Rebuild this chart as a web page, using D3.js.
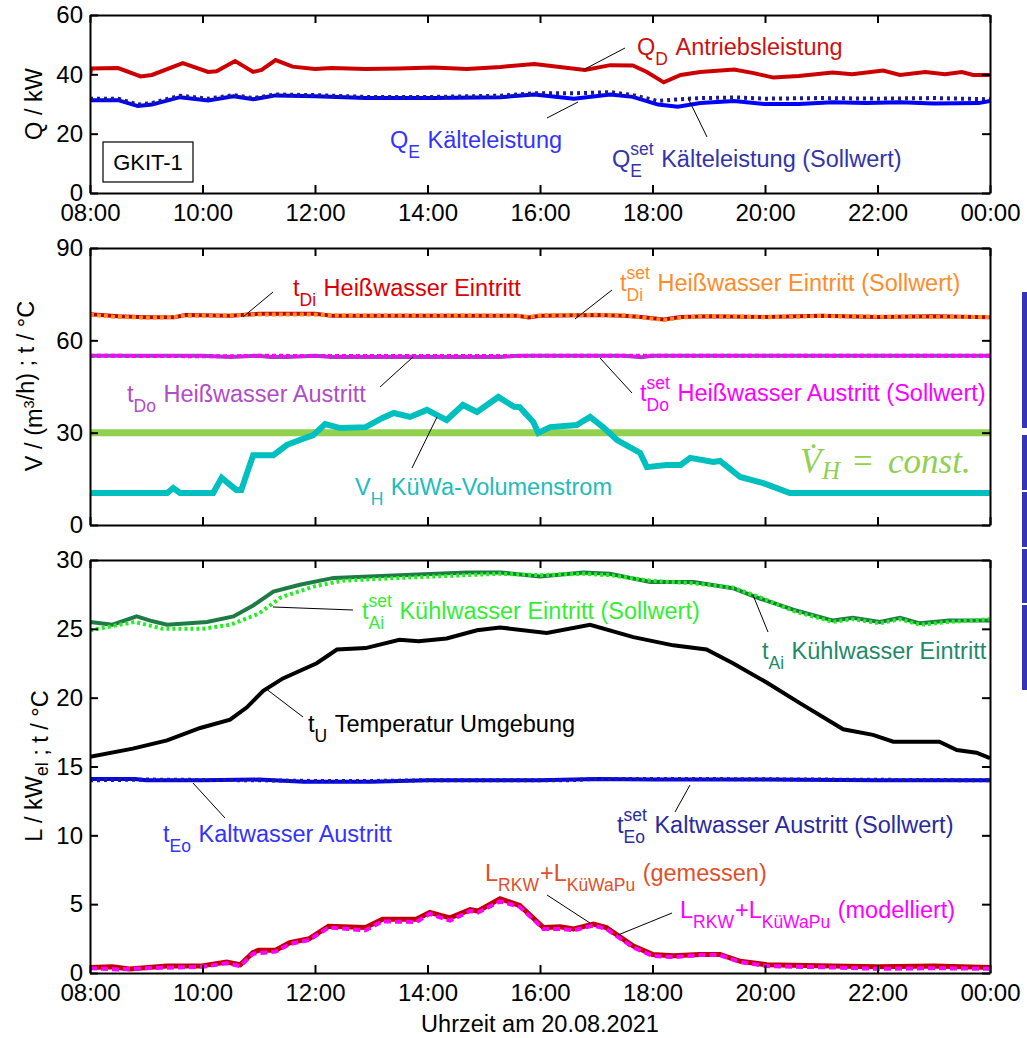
<!DOCTYPE html>
<html>
<head>
<meta charset="utf-8">
<script src="https://cdn.jsdelivr.net/npm/d3@7"></script>
<style>
  html, body { margin: 0; padding: 0; background: #fff; }
  svg { display: block; font-family: "Liberation Sans", Arial, sans-serif; }
  .axis path, .axis line { stroke: #000; stroke-width: 2px; }
  .axis text { font-size: 24px; fill: #000; font-family: "Liberation Sans", Arial, sans-serif; }
</style>
</head>
<body>
<svg id="chart" width="1027" height="1038"></svg>
<script>
// ---------------- data (hour of day, value) ----------------
const hourTicks = [8, 10, 12, 14, 16, 18, 20, 22, 24];
const yTicksQ = [0, 20, 40, 60];
const yTicksV = [0, 30, 60, 90];
const yTicksL = [0, 5, 10, 15, 20, 25, 30];

// Panel 1: Q / kW
const qD = [[8,39.5],[8.02,42],[8.5,42.1],[8.9,39.3],[9.1,39.8],[9.65,43.8],[10.1,40.8],[10.25,41],[10.58,44.5],[10.9,40.8],[11.05,41.5],[11.3,44.8],[11.6,42.6],[12,41.8],[12.3,42.1],[12.9,41.8],[13.5,42],[14.1,42.3],[14.7,41.8],[15.3,42.5],[15.9,43.5],[16.5,42.1],[16.8,41.5],[17.25,43.1],[17.65,43],[17.9,40.8],[18.2,37.3],[18.5,39.8],[18.85,40.8],[19.45,41.6],[19.8,40.4],[20.15,38.9],[20.6,39.4],[21.2,40.6],[21.55,40],[22.1,41.3],[22.4,39.8],[22.85,40.8],[23.2,40],[23.5,40.8],[23.7,39.8],[24,39.8]];
const qE = [[8,31.3],[8.5,31.3],[8.85,29.3],[9.1,29.8],[9.6,32.3],[10.1,31.2],[10.55,32.6],[10.9,31.6],[11.3,32.9],[12,32.6],[12.9,32],[14.1,32],[15.3,32.3],[15.9,33.2],[16.6,31.8],[17.25,33.2],[17.65,32.4],[18.1,29.8],[18.45,29.1],[18.85,30.3],[19.45,31],[20,30],[20.6,30],[21.2,30.6],[21.8,30.3],[22.4,30.6],[23,30.2],[23.8,30.3],[24,31]];
const qESet = [[8,31.8],[8.5,31.8],[8.85,29.8],[9.1,30.3],[9.6,32.8],[10.1,31.8],[10.55,33],[10.9,32],[11.3,33.2],[12,33],[12.9,32.4],[14.1,32.4],[15.3,32.8],[15.9,33.6],[16.6,33.6],[17.25,34],[17.65,33],[18.1,31],[18.4,31.5],[18.85,32],[19.5,32.2],[20,31.8],[21,32],[22,31.8],[23,32],[24,31.6]];

// Panel 2: V / (m3/h) ; t / °C
const tDi = [[8,68.5],[8.5,67.8],[9,67.5],[9.5,67.5],[9.7,68.2],[10.5,68],[11,68.6],[12,68.6],[12.3,68],[14,68],[15.6,68],[15.8,67.4],[16,68],[17,68.2],[17.5,68],[17.8,67.6],[18.2,66.8],[18.5,67.6],[19,67.8],[20,67.6],[21,68],[22,67.6],[23,67.8],[24,67.5]];
const tDiSet = [[8,68.3],[8.5,67.6],[9,67.4],[9.5,67.6],[9.7,68.1],[10.5,68.1],[11,68.4],[12,68.4],[12.3,68.1],[14,68.1],[15.6,68],[15.8,67.6],[16,68.1],[17,68.3],[17.5,68.1],[17.8,67.5],[18.2,66.6],[18.5,67.4],[19,67.9],[20,67.5],[21,67.9],[22,67.7],[23,67.6],[24,67.6]];
const tDo = [[8,55],[9,55],[10,55],[10.5,54.6],[11,55],[11.2,54.6],[11.5,54.6],[12,55],[12.3,54.6],[15.3,54.6],[15.6,55],[16,55],[17.5,55],[17.8,54.5],[18,55],[24,55]];
const tDoSet = [[8,55],[10.5,54.8],[11,55],[12,54.9],[15.5,54.9],[16,55],[24,55]];
const vH = [[8,10.4],[9.37,10.4],[9.48,12],[9.6,10.4],[10.19,10.4],[10.34,15.3],[10.6,11.4],[10.69,11.4],[10.9,22.7],[11.26,22.7],[11.5,26],[11.73,27.6],[11.97,29.2],[12.18,32.8],[12.45,31.5],[12.9,31.8],[13.2,34.8],[13.4,36.4],[13.69,35.1],[13.99,37.4],[14.34,34.1],[14.63,39],[14.88,36.7],[15.26,41.6],[15.54,38.4],[15.64,38.3],[15.88,33.5],[15.97,29.9],[16.18,31.8],[16.65,32.5],[16.89,35.1],[17.12,31.8],[17.37,27.6],[17.78,23.4],[17.9,18.8],[18.25,19.5],[18.5,19.5],[18.67,21.8],[19.08,20.5],[19.2,20.8],[19.56,15.6],[19.97,13.6],[20.21,12],[20.44,10.4],[24,10.4]];
const vHConst = [[8,30],[24,30]];

// Panel 3: L / kW_el ; t / °C
const tAi = [[8,25.5],[8.4,25.3],[8.83,25.9],[9.07,25.6],[9.37,25.3],[10.08,25.5],[10.55,25.9],[10.9,26.7],[11.26,27.7],[11.73,28.2],[12.09,28.5],[12.33,28.7],[13.5,28.9],[14.7,29.1],[15.3,29.1],[16,28.8],[16.77,29.1],[17.24,29],[17.96,28.4],[18.73,28.4],[19.43,27.95],[19.91,27.2],[20.5,26.4],[21.21,25.6],[21.56,25.8],[22.04,25.5],[22.4,25.8],[22.75,25.4],[23.28,25.6],[24,25.6]];
const tAiSet = [[8,24.9],[8.4,25.2],[8.8,25.5],[9.3,25],[10,25],[10.5,25.3],[11,26.1],[11.4,27.3],[12,28.1],[12.5,28.5],[13.5,28.7],[14.7,28.9],[15.3,29],[16,28.9],[16.77,29],[17.24,28.9],[17.96,28.5],[18.73,28.3],[19.43,28],[19.91,27.3],[20.5,26.3],[21.21,25.5],[21.56,25.7],[22.04,25.4],[22.4,25.7],[22.75,25.3],[23.28,25.5],[24,25.7]];
const tU = [[8,15.7],[8.76,16.3],[9.37,16.9],[9.96,17.8],[10.49,18.4],[10.79,19.3],[11.08,20.5],[11.43,21.4],[12.03,22.5],[12.39,23.5],[12.9,23.6],[13.5,24.2],[13.84,24.1],[14.34,24.3],[14.88,24.9],[15.29,25.1],[16.12,24.7],[16.89,25.3],[17.66,24.4],[18.37,23.8],[18.96,23.5],[19.43,22.5],[20.03,21.1],[20.62,19.6],[21.39,17.7],[21.92,17.3],[22.28,16.8],[23.1,16.8],[23.41,16.2],[23.76,16],[24,15.6]];
const tEo = [[8,14.1],[8.8,14.1],[9,14],[10,14],[11,14.05],[11.8,13.9],[13,13.9],[14,14],[16,14],[17,14.1],[18,14.05],[20,14.05],[22,14],[24,14]];
const tEoSet = [[8,14],[9,14.05],[11,14],[12,13.95],[13,13.95],[14,14],[16.5,14],[17,14.1],[18.5,14.1],[21,14.05],[24,14]];
const lMeas = [[8,0.4],[8.4,0.45],[8.7,0.3],[9.37,0.5],[9.96,0.5],[10.43,0.8],[10.67,0.6],[10.9,1.5],[11,1.65],[11.3,1.65],[11.55,2.2],[11.9,2.5],[12.24,3.4],[12.9,3.3],[13.2,3.9],[13.8,3.9],[14.04,4.4],[14.4,4],[14.76,4.6],[14.9,4.5],[15.29,5.4],[15.64,4.9],[16.06,3.3],[16.36,3.35],[16.6,3.2],[16.95,3.55],[17.18,3.3],[17.66,1.95],[18,1.35],[18.37,1.25],[18.84,1.35],[19.2,1.35],[19.56,0.85],[20.03,0.6],[21.2,0.5],[22,0.45],[23,0.5],[24,0.4]];
const lMod = [[8,0.35],[8.5,0.25],[9,0.35],[9.5,0.4],[10,0.45],[10.43,0.7],[10.67,0.5],[10.9,1.4],[11.3,1.55],[11.55,2.1],[11.9,2.4],[12.24,3.3],[12.9,3.1],[13.2,3.75],[13.8,3.7],[14.04,4.3],[14.4,3.8],[14.76,4.5],[14.9,4.4],[15.29,5.2],[15.64,4.8],[16.06,3.2],[16.36,3.2],[16.6,3.1],[16.95,3.45],[17.18,3.2],[17.66,1.85],[18,1.25],[18.37,1.15],[18.84,1.3],[19.2,1.3],[19.56,0.8],[20.03,0.5],[21.2,0.4],[22,0.3],[23,0.35],[24,0.3]];

// ---------------- drawing ----------------
const svg = d3.select("#chart");
const X0 = 90, X1 = 990;
const x = d3.scaleLinear().domain([8, 24]).range([X0, X1]);
const fmtHour = h => String(h % 24).padStart(2, "0") + ":00";
const MAIN = 23.5, SUB = 17.5;

function panel(id, top, bottom, yDomain, yTicks, showX) {
  const y = d3.scaleLinear().domain(yDomain).range([bottom, top]);
  const g = svg.append("g");
  svg.append("clipPath").attr("id", "clip" + id)
    .append("rect").attr("x", X0).attr("y", top).attr("width", X1 - X0).attr("height", bottom - top);
  const plot = g.append("g").attr("clip-path", `url(#clip${id})`);
  const axes = g.append("g");
  axes.append("g").attr("class", "axis").attr("transform", `translate(${X0},0)`)
    .call(d3.axisLeft(y).tickValues(yTicks).tickSizeInner(-8).tickSizeOuter(0).tickPadding(7));
  axes.append("g").attr("class", "axis").attr("transform", `translate(${X1},0)`)
    .call(d3.axisRight(y).tickValues(yTicks).tickSizeInner(-8).tickSizeOuter(0).tickFormat(""));
  axes.append("g").attr("class", "axis").attr("transform", `translate(0,${top})`)
    .call(d3.axisTop(x).tickValues(hourTicks).tickSizeInner(-8).tickSizeOuter(0).tickFormat(""));
  axes.append("g").attr("class", "axis").attr("transform", `translate(0,${bottom})`)
    .call(d3.axisBottom(x).tickValues(hourTicks).tickSizeInner(-8).tickSizeOuter(0).tickPadding(11)
      .tickFormat(showX ? fmtHour : ""));
  return { y, plot, axes };
}

function series(p, data, color, width, dash) {
  const line = d3.line().x(d => x(d[0])).y(d => p.y(d[1]));
  const path = p.plot.append("path").datum(data).attr("d", line)
    .attr("fill", "none").attr("stroke", color).attr("stroke-width", width)
    .attr("stroke-linejoin", "miter");
  if (dash) path.attr("stroke-dasharray", dash);
  return path;
}

function leader(x1, y1, x2, y2) {
  svg.append("line").attr("x1", x1).attr("y1", y1).attr("x2", x2).attr("y2", y2)
    .attr("stroke", "#000").attr("stroke-width", 1);
}

// parts: strings (main), {sub}, {sup}, {sup, sub}
function richLabel(x0, y0, color, parts) {
  const g = svg.append("g").attr("fill", color);
  let cx = x0;
  parts.forEach(p => {
    if (typeof p === "string") {
      const e = g.append("text").attr("x", cx).attr("y", y0).attr("font-size", MAIN).text(p);
      cx += e.node().getComputedTextLength();
    } else {
      let w = 0;
      if (p.sup) {
        const e = g.append("text").attr("x", cx).attr("y", y0 - 12).attr("font-size", SUB).text(p.sup);
        w = Math.max(w, e.node().getComputedTextLength());
      }
      if (p.sub) {
        const e = g.append("text").attr("x", cx).attr("y", y0 + 10).attr("font-size", SUB).text(p.sub);
        w = Math.max(w, e.node().getComputedTextLength());
      }
      cx += w + 1;
    }
  });
}

const NB = "\u00A0";

// Panel 1
const p1 = panel(1, 15, 193, [0, 60], yTicksQ, true);
series(p1, qD, "#cc0000", 4);
series(p1, qE, "#0000ff", 4);
series(p1, qESet, "#1c1c8c", 4, "3,4");

// Panel 2
const p2 = panel(2, 248, 525, [0, 90], yTicksV, false);
series(p2, vHConst, "#92d050", 7);
series(p2, vH, "#00bfbf", 6);
series(p2, tDi, "#c00000", 4);
series(p2, tDiSet, "#ff8c1a", 4, "4,3");
series(p2, tDo, "#a040c0", 4);
series(p2, tDoSet, "#ff00ff", 4, "4,3");

// Panel 3
const p3 = panel(3, 560, 973, [0, 30], yTicksL, true);
series(p3, tAi, "#1e7b45", 4);
series(p3, tAiSet, "#22ee22", 4, "3,3");
series(p3, tU, "#000000", 4);
series(p3, tEo, "#0000ff", 4);
series(p3, tEoSet, "#1c1c8c", 4, "3,4");
series(p3, lMeas, "#c00000", 5);
series(p3, lMod, "#ff00ff", 4, "7,4");

// GKIT-1 box
svg.append("rect").attr("x", 103).attr("y", 142).attr("width", 90).attr("height", 40)
  .attr("fill", "#fff").attr("stroke", "#000").attr("stroke-width", 1.2);
svg.append("text").attr("x", 148).attr("y", 170).attr("text-anchor", "middle")
  .attr("font-size", 22).text("GKIT-1");

// y axis titles
function yTitle(cy, parts) {
  const t = svg.append("text").attr("transform", `translate(42,${cy}) rotate(-90)`)
    .attr("text-anchor", "middle").attr("font-size", MAIN).attr("fill", "#000");
  parts.forEach(p => {
    if (typeof p === "string") t.append("tspan").text(p);
    else if (p.sub) { t.append("tspan").attr("font-size", SUB).attr("dy", 6).text(p.sub); t.append("tspan").attr("dy", -6).text(""); }
    else if (p.sup) { t.append("tspan").attr("font-size", SUB - 3).attr("dy", -8).text(p.sup); t.append("tspan").attr("dy", 8).text(""); }
  });
}
yTitle(104, ["Q / kW"]);
yTitle(386, ["V / (m", {sup: "3"}, "/h) ; t / °C"]);
yTitle(766, ["L / kW", {sub: "el"}, " ; t / °C"]);

// x axis title
svg.append("text").attr("x", 540).attr("y", 1032).attr("text-anchor", "middle")
  .attr("font-size", MAIN).text("Uhrzeit am 20.08.2021");

// ---------- annotations ----------
// Panel 1
richLabel(637, 55, "#cc1111", ["Q", {sub: "D"}, NB + "Antriebsleistung"]);
leader(625, 48, 583, 70);
richLabel(390, 148, "#3333ff", ["Q", {sub: "E"}, NB + "Kälteleistung"]);
leader(547, 118, 578, 102);
richLabel(612, 167, "#3333aa", ["Q", {sup: "set", sub: "E"}, NB + "Kälteleistung (Sollwert)"]);
leader(707, 137, 688, 98);

// Panel 2
richLabel(293, 296, "#dd0000", ["t", {sub: "Di"}, NB + "Heißwasser Eintritt"]);
leader(273, 292, 243, 317);
richLabel(620, 291, "#ff8c2a", ["t", {sup: "set", sub: "Di"}, NB + "Heißwasser Eintritt (Sollwert)"]);
leader(612, 290, 575, 319);
richLabel(127, 402, "#b04cc8", ["t", {sub: "Do"}, NB + "Heißwasser Austritt"]);
leader(380, 387, 413, 357);
richLabel(640, 401, "#ff00ff", ["t", {sup: "set", sub: "Do"}, NB + "Heißwasser Austritt (Sollwert)"]);
leader(632, 393, 600, 358);
richLabel(355, 495, "#22bbbb", ["V", {sub: "H"}, NB + "KüWa-Volumenstrom"]);
leader(412, 468, 437, 417);

// V_H = const.
const cg = svg.append("g").attr("fill", "#92d050").attr("font-family", "'Liberation Serif', 'DejaVu Serif', serif");
cg.append("text").attr("x", 800).attr("y", 473).attr("font-size", 35).attr("font-style", "italic").text("V\u0307");
cg.append("text").attr("x", 822).attr("y", 479).attr("font-size", 25).attr("font-style", "italic").text("H");
cg.append("text").attr("x", 853).attr("y", 473).attr("font-size", 35).text("=");
cg.append("text").attr("x", 888).attr("y", 473).attr("font-size", 35).attr("font-style", "italic").text("const.");

// Panel 3
richLabel(362, 619, "#33ee33", ["t", {sup: "set", sub: "Ai"}, NB + "Kühlwasser Eintritt (Sollwert)"]);
leader(353, 610, 273, 607);
richLabel(762, 659, "#1f8a68", ["t", {sub: "Ai"}, NB + "Kühlwasser Eintritt"]);
leader(768, 632, 753, 595);
richLabel(308, 732, "#000000", ["t", {sub: "U"}, NB + "Temperatur Umgebung"]);
leader(303, 717, 265, 688);
richLabel(163, 842, "#3333ff", ["t", {sub: "Eo"}, NB + "Kaltwasser Austritt"]);
leader(193, 783, 225, 818);
richLabel(617, 833, "#2a2aa0", ["t", {sup: "set", sub: "Eo"}, NB + "Kaltwasser Austritt (Sollwert)"]);
leader(675, 812, 690, 785);
richLabel(485, 881, "#e0502a", ["L", {sub: "RKW"}, "+L", {sub: "KüWaPu"}, NB + "(gemessen)"]);
leader(547, 895, 590, 923);
richLabel(680, 918, "#ff00ff", ["L", {sub: "RKW"}, "+L", {sub: "KüWaPu"}, NB + "(modelliert)"]);
leader(672, 913, 618, 935);

// slide-edge decoration bars at the right border
const sideBars = [[292, 428], [435, 490], [492, 547], [549, 603], [605, 690]];
svg.selectAll("rect.side").data(sideBars).enter().append("rect").attr("class", "side")
  .attr("x", 1022).attr("width", 6).attr("y", d => d[0]).attr("height", d => d[1] - d[0])
  .attr("fill", "#3434b4");
</script>
</body>
</html>
